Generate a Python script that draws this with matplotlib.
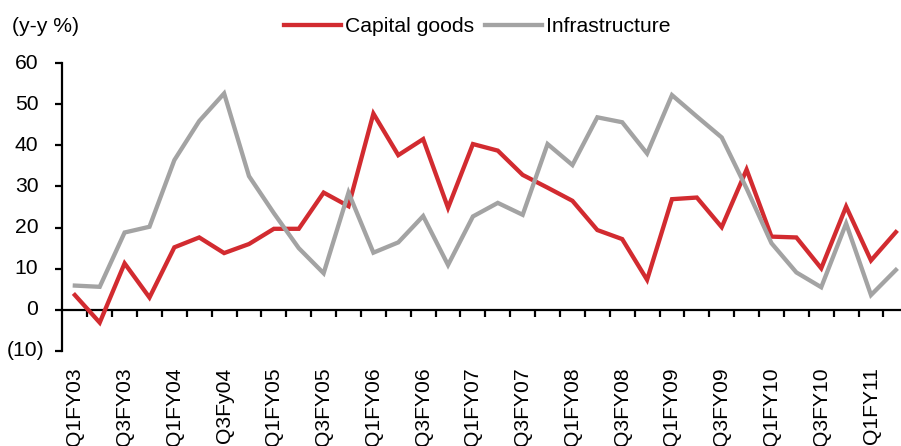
import matplotlib
matplotlib.use("Agg")
import matplotlib.pyplot as plt
from matplotlib.ticker import FixedLocator
import matplotlib.transforms as mtransforms

plt.rcParams["font.family"] = ["Liberation Sans", "DejaVu Sans"]

quarters = [
    "Q1FY03", "Q2FY03", "Q3FY03", "Q4FY03",
    "Q1FY04", "Q2FY04", "Q3Fy04", "Q4FY04",
    "Q1FY05", "Q2FY05", "Q3FY05", "Q4FY05",
    "Q1FY06", "Q2FY06", "Q3FY06", "Q4FY06",
    "Q1FY07", "Q2FY07", "Q3FY07", "Q4FY07",
    "Q1FY08", "Q2FY08", "Q3FY08", "Q4FY08",
    "Q1FY09", "Q2FY09", "Q3FY09", "Q4FY09",
    "Q1FY10", "Q2FY10", "Q3FY10", "Q4FY10",
    "Q1FY11", "Q2FY11",
]

capital_goods = [3.6, -3.1, 11.3, 3.0, 15.2, 17.6, 13.8, 16.0, 19.7, 19.7,
                 28.5, 25.2, 47.7, 37.6, 41.5, 24.8, 40.3, 38.7, 32.8, 29.7,
                 26.5, 19.4, 17.2, 7.3, 26.9, 27.3, 20.1, 34.1, 17.8, 17.6,
                 10.1, 25.1, 12.0, 18.9]

infrastructure = [5.9, 5.6, 18.8, 20.2, 36.4, 45.9, 52.6, 32.5, 23.5, 15.0,
                  8.9, 28.5, 13.9, 16.4, 22.8, 10.9, 22.7, 26.0, 23.1, 40.3,
                  35.2, 46.8, 45.6, 38.0, 52.2, 47.0, 41.9, 29.5, 16.2, 9.1,
                  5.5, 21.0, 3.6, 9.7]

y_ticks = [-10, 0, 10, 20, 30, 40, 50, 60]

RED = "#D22B30"
GREY = "#A3A3A3"
FS = 15.2

W, H = 901, 446
fig = plt.figure(figsize=(W / 100, H / 100), dpi=100)

left_px, right_px = 62.4, 62.4 + 34 * 24.88
top_px, bottom_px = 63, 351
ax = fig.add_axes([left_px / W, (H - bottom_px) / H,
                   (right_px - left_px) / W, (bottom_px - top_px) / H])

x = list(range(len(quarters)))
ax.plot(x, capital_goods, color=RED, lw=3.1, label="Capital goods",
        solid_joinstyle="miter", zorder=3)
ax.plot(x, infrastructure, color=GREY, lw=3.1, label="Infrastructure",
        solid_joinstyle="miter", zorder=4)

ax.set_xlim(-0.5, len(quarters) - 0.5)
ax.set_ylim(-10, 60)

for side in ("top", "right"):
    ax.spines[side].set_visible(False)
ax.spines["bottom"].set_position(("data", 0))
ax.spines["bottom"].set_linewidth(1.6)
ax.spines["left"].set_linewidth(1.6)
ax.spines["bottom"].set_zorder(2)

# category boundaries carry the tick marks, centres carry the labels
ax.xaxis.set_major_locator(FixedLocator([i + 0.5 for i in range(len(quarters))]))
ax.xaxis.set_major_formatter(plt.NullFormatter())
ax.set_xticks(x[::2], [quarters[i] for i in x[::2]], minor=True)
ax.tick_params(axis="x", which="major", direction="out", length=5, width=1.6)
ax.tick_params(axis="x", which="minor", length=0, pad=41.5,
               labelsize=FS, labelrotation=90)

ax.set_yticks(y_ticks)
ax.set_yticklabels([])
ax.tick_params(axis="y", direction="out", length=5, width=1.6)

ytrans = ax.get_yaxis_transform()
for v in y_ticks:
    label = f"({abs(v)})" if v < 0 else f"{v}"
    dx = -18 / 100 if v < 0 else -24 / 100
    off = mtransforms.ScaledTranslation(dx, 0, fig.dpi_scale_trans)
    ax.text(0, v, label, transform=ytrans + off, ha="right", va="center",
            fontsize=FS, color="black")

fig.text(12 / W, (H - 27) / H, "(y-y %)", ha="left", va="center", fontsize=FS)

fig.legend(loc="center", bbox_to_anchor=(477 / W, (H - 27) / H), ncol=2,
           frameon=False, fontsize=FS, handlelength=2.7, handletextpad=0.19,
           columnspacing=0.52)

fig.savefig("out.png", dpi=100)
